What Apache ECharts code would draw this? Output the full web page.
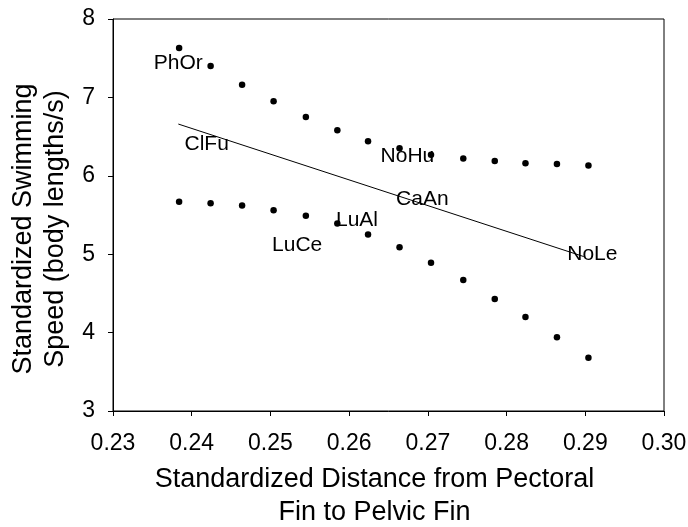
<!DOCTYPE html>
<html>
<head>
<meta charset="utf-8">
<script src="https://cdn.jsdelivr.net/npm/echarts@6/dist/echarts.min.js"></script>
<style>html,body{margin:0;padding:0;background:#fff}#c{width:688px;height:527px}</style>
</head>
<body>
<div id="c"></div>
<script>
const bandX = [0.2384,0.2424,0.2464,0.2504,0.2545,0.2585,0.2624,0.2664,0.2704,0.2745,0.2785,0.2824,0.2864,0.2904];
const upperY = [7.63,7.40,7.16,6.95,6.75,6.58,6.44,6.35,6.27,6.22,6.19,6.16,6.15,6.13];
const lowerY = [5.67,5.65,5.62,5.56,5.49,5.39,5.25,5.09,4.89,4.67,4.43,4.20,3.94,3.68];
const lineX = [0.2383,0.2898];
const lineY = [6.66,4.97];
const speciesNames = ['PhOr','ClFu','NoHu','CaAn','LuAl','LuCe','NoLe'];
const speciesX = [0.2383,0.2419,0.2674,0.2693,0.2610,0.2534,0.2909];
const speciesY = [7.44,6.40,6.25,5.70,5.44,5.12,5.00];
const xTicks = ['0.23','0.24','0.25','0.26','0.27','0.28','0.29','0.30'];

const font = 'Liberation Sans, Arial, sans-serif';
const chart = echarts.init(document.getElementById('c'));
chart.setOption({
  animation: false,
  backgroundColor: '#fff',
  grid: {left: 113, top: 19, right: 24, bottom: 116, show: true, borderColor: '#000', borderWidth: 1,
    containLabel: false, outerBoundsMode: 'none'},
  xAxis: {
    type: 'value', min: 0.23, max: 0.30, interval: 0.01,
    name: 'Standardized Distance from Pectoral\nFin to Pelvic Fin',
    nameLocation: 'middle', nameGap: 52,
    nameTextStyle: {fontFamily: font, fontSize: 27, color: '#000', lineHeight: 33, padding: [0, 28, 0, 0]},
    axisLine: {show: true, onZero: false, lineStyle: {color: '#000'}},
    axisTick: {show: true, length: 5, lineStyle: {color: '#000'}},
    axisLabel: {fontFamily: font, fontSize: 23, color: '#000', margin: 21,
      formatter: v => xTicks[Math.round((v - 0.23) * 100)]},
    splitLine: {show: false}
  },
  yAxis: {
    type: 'value', min: 3, max: 8, interval: 1,
    name: 'Standardized Swimming\nSpeed (body lengths/s)',
    nameLocation: 'middle', nameGap: 36,
    nameTextStyle: {fontFamily: font, fontSize: 27, color: '#000', lineHeight: 32, padding: [0, 28, 0, 0]},
    axisLine: {show: true, onZero: false, lineStyle: {color: '#000'}},
    axisTick: {show: true, length: 5, lineStyle: {color: '#000'}},
    axisLabel: {fontFamily: font, fontSize: 23, color: '#000', margin: 18},
    splitLine: {show: false}
  },
  series: [
    {type: 'scatter', symbolSize: 6.5, itemStyle: {color: '#000', opacity: 1},
      data: bandX.map((x, i) => [x, upperY[i]])},
    {type: 'scatter', symbolSize: 6.5, itemStyle: {color: '#000', opacity: 1},
      data: bandX.map((x, i) => [x, lowerY[i]])},
    {type: 'line', symbol: 'none', lineStyle: {color: '#000', width: 1},
      data: lineX.map((x, i) => [x, lineY[i]])},
    {type: 'scatter', symbolSize: 0, silent: true, itemStyle: {opacity: 1},
      label: {show: true, position: 'inside', fontFamily: font, fontSize: 21, color: '#000',
        textBorderWidth: 0, textBorderColor: 'transparent',
        formatter: p => speciesNames[p.dataIndex]},
      data: speciesX.map((x, i) => [x, speciesY[i]])}
  ]
});
</script>
</body>
</html>
